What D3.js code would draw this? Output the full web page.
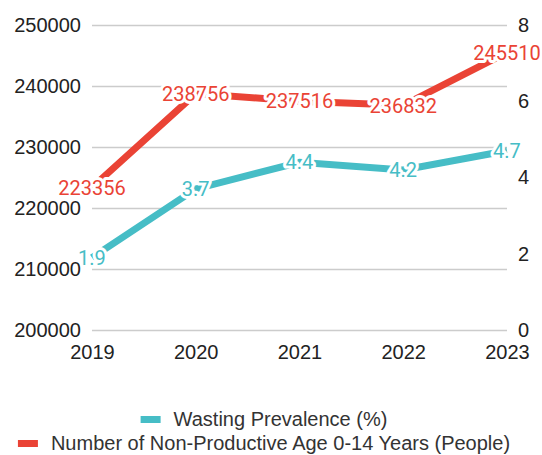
<!DOCTYPE html>
<html>
<head>
<meta charset="utf-8">
<script src="https://cdn.jsdelivr.net/npm/d3@7"></script>
<style>
  html, body { margin: 0; padding: 0; background: #fff; }
  svg { display: block; font-family: "Liberation Sans", Arial, sans-serif; }
</style>
</head>
<body>
<svg id="chart" width="542" height="455"></svg>
<script>
// Years on the x axis
const years = ["2019", "2020", "2021", "2022", "2023"];
// Wasting prevalence, percent (right axis)
const wasting = [1.9, 3.7, 4.4, 4.2, 4.7];
// Children aged 0-14, people (left axis)
const nonProductive = [223356, 238756, 237516, 236832, 245510];
// Axis ticks
const leftTicks = [200000, 210000, 220000, 230000, 240000, 250000];
const rightTicks = [0, 2, 4, 6, 8];
// Series names
const seriesNames = ["Wasting Prevalence (%)", "Number of Non-Productive Age 0-14 Years (People)"];

const RED = "#ea4335", TEAL = "#46bdc6";
const svg = d3.select("#chart");
const plotL = 92, plotR = 507, plotT = 25, plotB = 330;
const fs = 20;

const x = d3.scalePoint().domain(years).range([plotL, plotR]);
const yL = d3.scaleLinear().domain([200000, 250000]).range([plotB, plotT]);
const yR = d3.scaleLinear().domain([0, 8]).range([plotB, plotT]);

// Left axis with gridlines
const gL = svg.append("g").attr("transform", `translate(${plotL},0)`)
  .call(d3.axisLeft(yL).tickValues(leftTicks).tickFormat(d3.format("d"))
    .tickSize(-(plotR - plotL)).tickPadding(11));
gL.select(".domain").remove();
gL.selectAll(".tick line").attr("stroke", "#cccccc").attr("stroke-width", 1.5);
gL.selectAll(".tick text").attr("fill", "#222").attr("font-size", fs).attr("font-family", null);

// Right axis, labels only
const gR = svg.append("g").attr("transform", `translate(${plotR},0)`)
  .call(d3.axisRight(yR).tickValues(rightTicks).tickSize(0).tickPadding(11));
gR.select(".domain").remove();
gR.selectAll(".tick text").attr("fill", "#222").attr("font-size", fs).attr("font-family", null);

// Bottom axis
const gB = svg.append("g").attr("transform", `translate(0,${plotB})`)
  .call(d3.axisBottom(x).tickSize(0).tickPadding(15));
gB.select(".domain").remove();
gB.selectAll(".tick text").attr("fill", "#222").attr("font-size", fs).attr("font-family", null);

// Lines
const lineR = d3.line().x((d, i) => x(years[i])).y(d => yR(d));
const lineL = d3.line().x((d, i) => x(years[i])).y(d => yL(d));

svg.append("path").datum(wasting).attr("d", lineR)
  .attr("fill", "none").attr("stroke", TEAL).attr("stroke-width", 7);
svg.append("path").datum(nonProductive).attr("d", lineL)
  .attr("fill", "none").attr("stroke", RED).attr("stroke-width", 7);

// Value labels, centred on each point with a white halo
function labels(data, yScale, color) {
  svg.append("g").selectAll("text").data(data).join("text")
    .attr("x", (d, i) => x(years[i]))
    .attr("y", d => yScale(d))
    .attr("dy", "0.36em")
    .attr("text-anchor", "middle")
    .attr("font-family", "Roboto, sans-serif")
    .attr("font-size", fs)
    .attr("fill", color)
    .attr("stroke", "#fff").attr("stroke-width", 6)
    .attr("stroke-linejoin", "round")
    .attr("paint-order", "stroke")
    .text(d => d);
}
labels(wasting, yR, TEAL);
labels(nonProductive, yL, RED);

// Legend
const legend = svg.append("g");
const colors = [TEAL, RED];
const rowsY = [419, 443];
seriesNames.forEach((name, i) => {
  const row = legend.append("g");
  const t = row.append("text").attr("font-size", fs).attr("fill", "#333")
    .attr("dy", "0.35em").text(name);
  const w = t.node().getComputedTextLength();
  const total = 20 + 13 + w;
  const x0 = 264 - total / 2;
  row.attr("transform", `translate(${x0},${rowsY[i]})`);
  row.append("rect").attr("x", 0).attr("y", -3).attr("width", 20).attr("height", 7).attr("fill", colors[i]);
  t.attr("x", 33);
});
</script>
</body>
</html>
